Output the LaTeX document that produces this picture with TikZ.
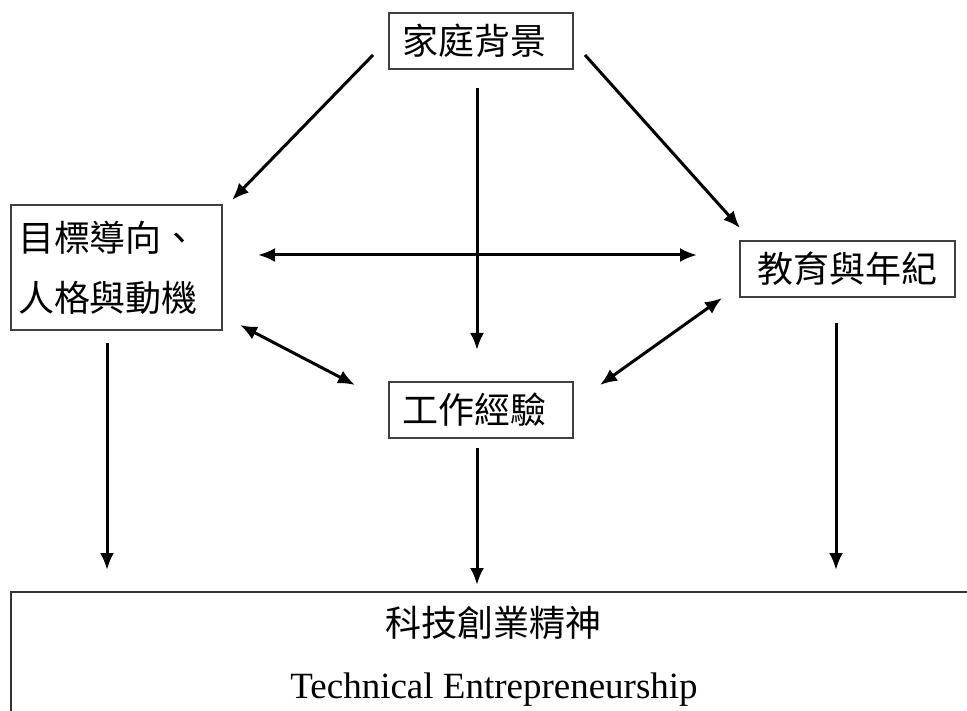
\documentclass[tikz,border=0pt]{standalone}
\usepackage{fontspec}
\setmainfont{Liberation Serif}
\newfontfamily\cjk{Noto Sans CJK TC}[Scale=1]
\usetikzlibrary{arrows.meta}
\begin{document}
\begin{tikzpicture}[x=1pt,y=-1pt,
  box/.style={draw=black!75,line width=1.4pt,inner sep=0pt,font=\cjk\fontsize{36}{44}\selectfont},
  tip/.tip={Latex[length=17pt,width=14pt]},
  arr/.style={line width=3pt,-tip},
  darr/.style={line width=3pt,tip-tip}]
\useasboundingbox (0,0) rectangle (967,711);
\clip (0,0) rectangle (967,711);
\node[box,minimum width=184pt,minimum height=56pt,text width=158pt,align=left] (fam) at (481,41) {家庭背景};
\node[box,minimum width=211pt,minimum height=125pt,align=left,text width=197pt] (goal) at (116.5,267.5) {目標導向、\\[16pt]人格與動機};
\node[box,minimum width=215pt,minimum height=56pt] (edu) at (847.5,269) {教育與年紀};
\node[box,minimum width=184pt,minimum height=56pt,text width=158pt,align=left] (work) at (481,410) {工作經驗};
\draw[draw=black!80,line width=1.4pt] (11,720) |- (980,592);
\node[font=\cjk\fontsize{36}{44}\selectfont] (te1) at (493,623) {科技創業精神};
\node[font=\fontsize{37}{44}\selectfont] (te2) at (494,690) {Technical Entrepreneurship};
\coordinate (a1s) at (373,55); \coordinate (a1e) at (232,200);
\coordinate (a2s) at (585,55); \coordinate (a2e) at (740,228);
\coordinate (a3s) at (477,88); \coordinate (a3e) at (477,350);
\coordinate (a4s) at (258,255); \coordinate (a4e) at (697,255);
\coordinate (a5s) at (240,325); \coordinate (a5e) at (355,385);
\coordinate (a6s) at (722,298); \coordinate (a6e) at (600,385);
\coordinate (a7s) at (107,343); \coordinate (a7e) at (107,570);
\coordinate (a8s) at (477,448); \coordinate (a8e) at (477,585);
\coordinate (a9s) at (836,323); \coordinate (a9e) at (836,570);
\draw[arr] (a1s) -- (a1e);
\draw[arr] (a2s) -- (a2e);
\draw[arr] (a3s) -- (a3e);
\draw[darr] (a4s) -- (a4e);
\draw[darr] (a5s) -- (a5e);
\draw[darr] (a6s) -- (a6e);
\draw[arr] (a7s) -- (a7e);
\draw[arr] (a8s) -- (a8e);
\draw[arr] (a9s) -- (a9e);
\end{tikzpicture}
\end{document}
